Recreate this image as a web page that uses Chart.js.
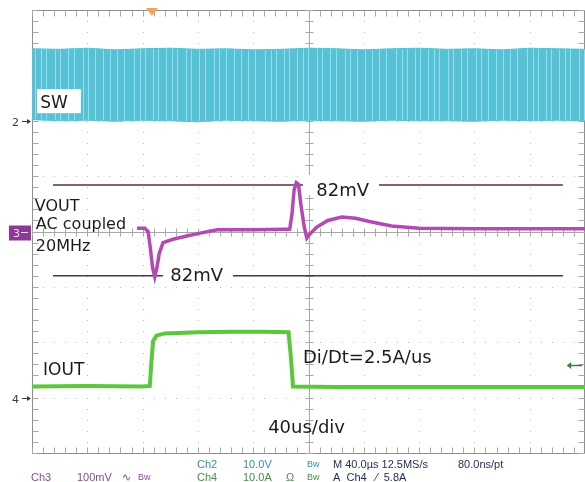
<!DOCTYPE html>
<html>
<head>
<meta charset="utf-8">
<script src="https://cdn.jsdelivr.net/npm/chart.js@4.4.1/dist/chart.umd.min.js"></script>
<style>
  html, body { margin: 0; padding: 0; background: #ffffff; }
  canvas { display: block; }
</style>
</head>
<body>
<canvas id="scope" width="585" height="482"></canvas>
<script>
// All values are in screen divisions: x 0..10 (40us/div), y 0..8 (bottom = 0)

// SW (Ch2) switching node - envelope of the switching band
const swTime = [0, 0.5, 1, 1.5, 2, 2.5, 3, 3.5, 4, 4.5, 5, 5.5, 6, 6.5, 7, 7.5, 8, 8.5, 9, 9.5, 10];
const swHigh = [7.30, 7.29, 7.31, 7.28, 7.30, 7.31, 7.29, 7.30, 7.28, 7.29, 7.31, 7.30, 7.28, 7.30, 7.31, 7.29, 7.30, 7.28, 7.31, 7.30, 7.29];
const swLow = [6.02, 6.00, 6.01, 5.99, 6.01, 6.00, 5.98, 6.01, 6.00, 5.99, 6.01, 6.00, 5.99, 6.01, 6.00, 6.00, 5.99, 6.01, 6.00, 6.01, 6.00];

// VOUT (Ch3) AC coupled, 100mV/div
const voutTime = [1.90, 2.04, 2.10, 2.14, 2.18, 2.22, 2.26, 2.30, 2.37, 2.55, 2.80, 3.04, 3.35, 4.00, 4.60, 4.66, 4.70, 4.74, 4.78, 4.82, 4.86, 4.92, 4.97, 5.02, 5.15, 5.35, 5.60, 5.85, 6.10, 6.50, 7.00, 8.00, 9.00, 10.00];
const voutLevel = [4.06, 4.06, 4.00, 3.70, 3.35, 3.18, 3.35, 3.60, 3.80, 3.86, 3.92, 3.97, 4.03, 4.03, 4.04, 4.04, 4.30, 4.75, 4.88, 4.85, 4.50, 4.10, 3.88, 3.95, 4.08, 4.20, 4.26, 4.24, 4.18, 4.10, 4.06, 4.05, 4.05, 4.05];

// IOUT (Ch4) load step, 10A/div
const ioutTime = [0, 1.0, 2.0, 2.13, 2.16, 2.19, 2.25, 2.40, 3.00, 3.60, 4.20, 4.64, 4.68, 4.72, 5.50, 7.00, 8.50, 10.00];
const ioutLevel = [1.20, 1.21, 1.20, 1.21, 1.65, 2.02, 2.12, 2.16, 2.18, 2.19, 2.19, 2.18, 1.75, 1.20, 1.19, 1.19, 1.19, 1.19];

// 82mV cursor lines on VOUT
const cursorSpan = [0.38, 9.60];
const cursorLevels = [4.84, 3.20];

const triggerTime = 2.17;
const triggerLevel = 1.59;

function toPoints(xs, ys) {
  return xs.map((x, i) => ({ x: x, y: ys[i] }));
}

// lighter streaks inside the SW band
const streak = document.createElement("canvas");
streak.width = 131;
streak.height = 4;
const sctx = streak.getContext("2d");
sctx.fillStyle = "#55c3d5";
sctx.fillRect(0, 0, 131, 4);
sctx.fillStyle = "#9fd9e5";
[3, 9, 14, 22, 27, 35, 41, 46, 55, 60, 68, 74, 83, 88, 95, 103, 110, 117, 124].forEach(o => sctx.fillRect(o, 0, 1, 4));
const swPattern = sctx.createPattern(streak, "repeat");

const scopeGrid = {
  id: "scopeGrid",
  beforeDatasetsDraw(chart) {
    const ctx = chart.ctx;
    const xs = chart.scales.x, ys = chart.scales.y;
    const X = v => Math.round(xs.getPixelForValue(v)) + 0.5;
    const Y = v => Math.round(ys.getPixelForValue(v)) + 0.5;
    ctx.save();
    // dotted grid
    ctx.fillStyle = "#b9b9b9";
    for (let i = 1; i < 10; i++) {
      if (i === 5) continue;
      for (let j = 0; j <= 40; j++) ctx.fillRect(X(i) - 0.5, Y(j / 5) - 0.5, 1, 1);
    }
    for (let i = 1; i < 8; i++) {
      if (i === 4) continue;
      for (let j = 0; j <= 50; j++) ctx.fillRect(X(j / 5) - 0.5, Y(i) - 0.5, 1, 1);
    }
    // frame and centre lines
    ctx.strokeStyle = "#8e8e8e";
    ctx.lineWidth = 1;
    ctx.beginPath();
    ctx.moveTo(X(0), Y(0)); ctx.lineTo(X(0), Y(8));
    ctx.moveTo(X(0), Y(8)); ctx.lineTo(X(10) - 1, Y(8));
    ctx.moveTo(X(0), Y(0)); ctx.lineTo(X(10) - 1, Y(0));
    ctx.moveTo(X(10) - 1, Y(0)); ctx.lineTo(X(10) - 1, Y(8));
    ctx.stroke();
    ctx.strokeStyle = "#a8a8a8";
    ctx.beginPath();
    ctx.moveTo(X(5), Y(0)); ctx.lineTo(X(5), Y(8));
    ctx.moveTo(X(0), Y(4)); ctx.lineTo(X(10), Y(4));
    // minor ticks
    for (let j = 0; j <= 50; j++) {
      const x = X(j / 5);
      ctx.moveTo(x, Y(8)); ctx.lineTo(x, Y(8) + 6);
      ctx.moveTo(x, Y(0)); ctx.lineTo(x, Y(0) - 6);
      ctx.moveTo(x, Y(4) - 4); ctx.lineTo(x, Y(4) + 4);
    }
    for (let j = 0; j <= 40; j++) {
      const y = Y(j / 5);
      ctx.moveTo(X(0), y); ctx.lineTo(X(0) + 6, y);
      ctx.moveTo(X(10) - 1, y); ctx.lineTo(X(10) - 7, y);
      ctx.moveTo(X(5) - 4, y); ctx.lineTo(X(5) + 4, y);
    }
    ctx.stroke();
    ctx.restore();
  },
  afterDatasetsDraw(chart) {
    const ctx = chart.ctx;
    const xs = chart.scales.x, ys = chart.scales.y;
    const X = v => xs.getPixelForValue(v);
    const Y = v => ys.getPixelForValue(v);
    ctx.save();
    ctx.textBaseline = "alphabetic";
    ctx.textAlign = "left";

    // SW label in a white box
    ctx.fillStyle = "#ffffff";
    ctx.fillRect(X(0.09), Y(6.57), 44, 24);
    ctx.fillStyle = "#1c1c1c";
    ctx.font = "17px 'DejaVu Sans'";
    ctx.fillText("SW", X(0.15), Y(6.23));

    ctx.font = "16px 'DejaVu Sans'";
    ctx.fillText("VOUT", X(0.05), Y(4.37));
    ctx.fillText("AC coupled", X(0.07), Y(4.05));
    ctx.fillText("20MHz", X(0.07), Y(3.65));

    // cursor values
    ctx.font = "18px 'DejaVu Sans'";
    ctx.fillStyle = "#ffffff";
    ctx.fillRect(X(2.37), Y(3.37), 70, 20);
    ctx.fillRect(X(4.90), Y(5.02), 76, 20);
    ctx.fillStyle = "#1c1c1c";
    ctx.fillText("82mV", X(2.50), Y(3.10));
    ctx.fillText("82mV", X(5.14), Y(4.64));

    ctx.font = "17px 'DejaVu Sans'";
    ctx.fillText("IOUT", X(0.20), Y(1.41));
    ctx.font = "18px 'DejaVu Sans'";
    ctx.fillText("Di/Dt=2.5A/us", X(4.90), Y(1.62));
    ctx.fillText("40us/div", X(4.27), Y(0.36));

    // trigger position marker
    ctx.fillStyle = "#f2a45e";
    ctx.beginPath();
    ctx.moveTo(X(triggerTime) - 6, Y(8) - 2);
    ctx.lineTo(X(triggerTime) + 6, Y(8) - 2);
    ctx.lineTo(X(triggerTime), Y(8) + 6);
    ctx.closePath();
    ctx.fill();

    // trigger level arrow
    const ty = Math.round(Y(triggerLevel)) + 0.5;
    ctx.strokeStyle = "#3f7f3f";
    ctx.fillStyle = "#3f7f3f";
    ctx.lineWidth = 1.5;
    ctx.beginPath();
    ctx.moveTo(X(9.7), ty); ctx.lineTo(X(9.95), ty);
    ctx.stroke();
    ctx.beginPath();
    ctx.moveTo(X(9.67), ty); ctx.lineTo(X(9.75), ty - 3.5); ctx.lineTo(X(9.75), ty + 3.5);
    ctx.closePath();
    ctx.fill();
    ctx.restore();
  },
  afterDraw(chart) {
    const ctx = chart.ctx;
    const ys = chart.scales.y;
    const Y = v => ys.getPixelForValue(v);
    ctx.save();
    // channel ground markers
    ctx.font = "11px 'DejaVu Sans'";
    ctx.fillStyle = "#3a3a3a";
    ctx.strokeStyle = "#3a3a3a";
    ctx.lineWidth = 1;
    [[6, "2"], [1, "4"]].forEach(([lvl, name]) => {
      const y = Math.round(Y(lvl)) + 0.5;
      ctx.fillText(name, 12, y + 4);
      ctx.beginPath(); ctx.moveTo(22, y); ctx.lineTo(30, y); ctx.stroke();
      ctx.beginPath(); ctx.moveTo(31, y); ctx.lineTo(27, y - 2.5); ctx.lineTo(27, y + 2.5); ctx.closePath(); ctx.fill();
    });
    const y3 = Math.round(Y(4)) + 0.5;
    ctx.fillStyle = "#8b3a95";
    ctx.fillRect(9, y3 - 7, 22, 15);
    ctx.fillStyle = "#f0d8f0";
    ctx.fillText("3", 13, y3 + 4);
    ctx.strokeStyle = "#f0d8f0";
    ctx.beginPath(); ctx.moveTo(21, y3); ctx.lineTo(28, y3); ctx.stroke();

    // status lines
    ctx.font = "11px 'Liberation Sans'";
    const put = (txt, x, y, c) => { ctx.fillStyle = c; ctx.fillText(txt, x, y); };
    put("Ch3", 31, 481, "#8a4a94");
    put("100mV", 77, 481, "#8a4a94");
    put("∿", 122, 481, "#8a4a94");
    put("Ch2", 197, 468, "#3a8e9e");
    put("10.0V", 243, 468, "#3a8e9e");
    put("Ch4", 197, 481, "#4a8e4a");
    put("10.0A", 243, 481, "#4a8e4a");
    put("Ω", 286, 481, "#4a8e4a");
    put("M 40.0µs 12.5MS/s", 333, 468, "#1f2a55");
    put("80.0ns/pt", 458, 468, "#1f2a55");
    put("A  Ch4   ⁄  5.8A", 333, 481, "#1f2a55");
    ctx.font = "9px 'Liberation Sans'";
    put("Bw", 138, 480, "#8a4a94");
    put("Bw", 307, 467, "#3a8e9e");
    put("Bw", 307, 480, "#4a8e4a");
    ctx.restore();
  }
};

new Chart("scope", {
  type: "line",
  data: {
    datasets: [
      {
        label: "SW low",
        data: toPoints(swTime, swLow),
        borderColor: "#55c3d5",
        borderWidth: 1,
        pointRadius: 0,
        fill: false
      },
      {
        label: "SW high",
        data: toPoints(swTime, swHigh),
        borderColor: "#55c3d5",
        borderWidth: 1,
        backgroundColor: swPattern,
        pointRadius: 0,
        fill: "-1"
      },
      {
        label: "VOUT",
        data: toPoints(voutTime, voutLevel),
        borderColor: "#b448b4",
        borderWidth: 3.5,
        pointRadius: 0,
        fill: false
      },
      {
        label: "IOUT",
        data: toPoints(ioutTime, ioutLevel),
        borderColor: "#5cc63c",
        borderWidth: 4,
        pointRadius: 0,
        fill: false
      },
      {
        label: "82mV high",
        data: toPoints(cursorSpan, [cursorLevels[0], cursorLevels[0]]),
        borderColor: "#5e2d4e",
        borderWidth: 1.5,
        pointRadius: 0,
        fill: false
      },
      {
        label: "82mV low",
        data: toPoints(cursorSpan, [cursorLevels[1], cursorLevels[1]]),
        borderColor: "#5e2d4e",
        borderWidth: 1.5,
        pointRadius: 0,
        fill: false
      }
    ]
  },
  options: {
    responsive: false,
    devicePixelRatio: 1,
    animation: false,
    layout: { padding: { left: 32, top: 10, right: 0, bottom: 29 } },
    plugins: { legend: { display: false }, tooltip: { enabled: false } },
    scales: {
      x: { type: "linear", min: 0, max: 10, display: false },
      y: { type: "linear", min: 0, max: 8, display: false }
    }
  },
  plugins: [scopeGrid]
});
</script>
</body>
</html>
